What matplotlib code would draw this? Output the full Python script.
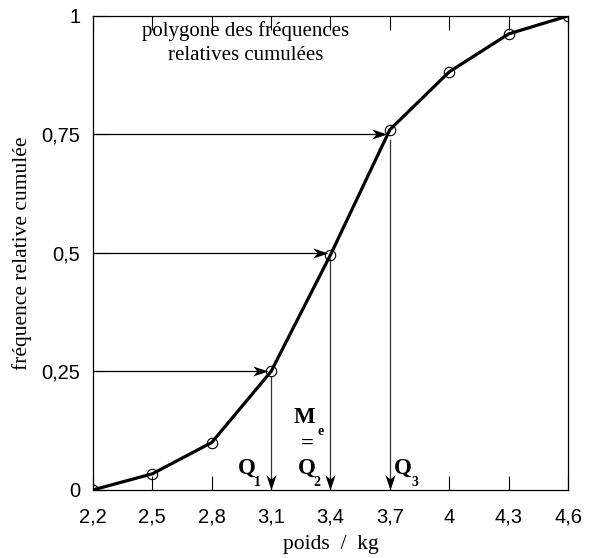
import numpy as np
import matplotlib.pyplot as plt
from matplotlib.path import Path

# weights (kg) and cumulative relative frequencies
poids = np.array([2.2, 2.5, 2.8, 3.1, 3.4, 3.7, 4.0, 4.3, 4.6])
freq_cum = np.array([0.0, 0.034, 0.10, 0.25, 0.496, 0.76, 0.882, 0.962, 1.0])

xtick_labels = ['2,2', '2,5', '2,8', '3,1', '3,4', '3,7', '4', '4,3', '4,6']
yticks = [0, 0.25, 0.5, 0.75, 1]
ytick_labels = ['0', '0,25', '0,5', '0,75', '1']

# quartiles
quart_x = [3.1, 3.4, 3.7]
quart_y = [0.25, 0.5, 0.75]
quart_names = ['1', '2', '3']

serif = 'Liberation Serif'
sans = 'Liberation Sans'

# arrow heads with swept-back barbs (tip at origin)
head_right = Path([(0, 0), (-1, 0.33), (-0.72, 0), (-1, -0.33), (0, 0)],
                  [Path.MOVETO, Path.LINETO, Path.LINETO, Path.LINETO, Path.CLOSEPOLY])
head_down = Path([(0, 0), (-0.33, 1), (0, 0.72), (0.33, 1), (0, 0)],
                 [Path.MOVETO, Path.LINETO, Path.LINETO, Path.LINETO, Path.CLOSEPOLY])

fig = plt.figure(figsize=(5.92, 5.58), dpi=100)
ax = fig.add_axes([0.157, 0.122, 0.8025, 0.8495])

ax.plot(poids, freq_cum, color='black', lw=2.3, marker='o', markersize=7.5,
        markerfacecolor='none', markeredgewidth=0.8, zorder=3)

gap = 0.015
for qx, qy in zip(quart_x, quart_y):
    # horizontal arrow from the y axis to the curve
    ax.plot([poids[0], qx - gap - 0.02], [qy, qy], color='black', lw=0.9)
    ax.plot([qx - gap], [qy], marker=head_right, markersize=22, color='black',
            markeredgewidth=0, linestyle='none')
    # vertical arrow down to the x axis
    ax.plot([qx, qx], [qy - 0.012, 0.02], color='#333333', lw=0.9)
    ax.plot([qx], [0], marker=head_down, markersize=22, color='black',
            markeredgewidth=0, linestyle='none', clip_on=False, zorder=4)

qfont = dict(family=serif, fontsize=16.5, fontweight='bold')
sfont = dict(family=serif, fontsize=10, fontweight='bold')
q_text_x = [2.975, 3.278, 3.763]
q_sub_x = [3.032, 3.330, 3.825]
for tx, sx, name in zip(q_text_x, q_sub_x, quart_names):
    ax.text(tx, 0.046, 'Q', ha='center', va='center', **qfont)
    ax.text(sx, 0.016, name, ha='center', va='center', **sfont)
ax.text(3.271, 0.152, 'M', ha='center', va='center', **qfont)
ax.text(3.350, 0.124, 'e', ha='center', va='center', **sfont)
ax.text(3.284, 0.097, '=', ha='center', va='center', **qfont)

ax.text(2.97, 0.942, 'polygone des fréquences\nrelatives cumulées', ha='center',
        va='center', family=serif, fontsize=15, linespacing=1.35)

ax.set_xlim(2.2, 4.6)
ax.set_ylim(0, 1)
ax.set_xticks(poids)
ax.set_xticklabels(xtick_labels, family=sans, fontsize=14.5)
ax.set_yticks(yticks)
ax.set_yticklabels(ytick_labels, family=sans, fontsize=14.5)
ax.tick_params(direction='in', length=10, width=0.8, top=True, right=False, pad=9)
ax.tick_params(axis='x', pad=13)

ax.set_xlabel('poids  /  kg', family=serif, fontsize=15.5, labelpad=6)
ax.set_ylabel('fréquence relative cumulée', family=serif, fontsize=15.5, labelpad=7)
for s in ax.spines.values():
    s.set_linewidth(0.9)

fig.savefig('out.png', dpi=100)
